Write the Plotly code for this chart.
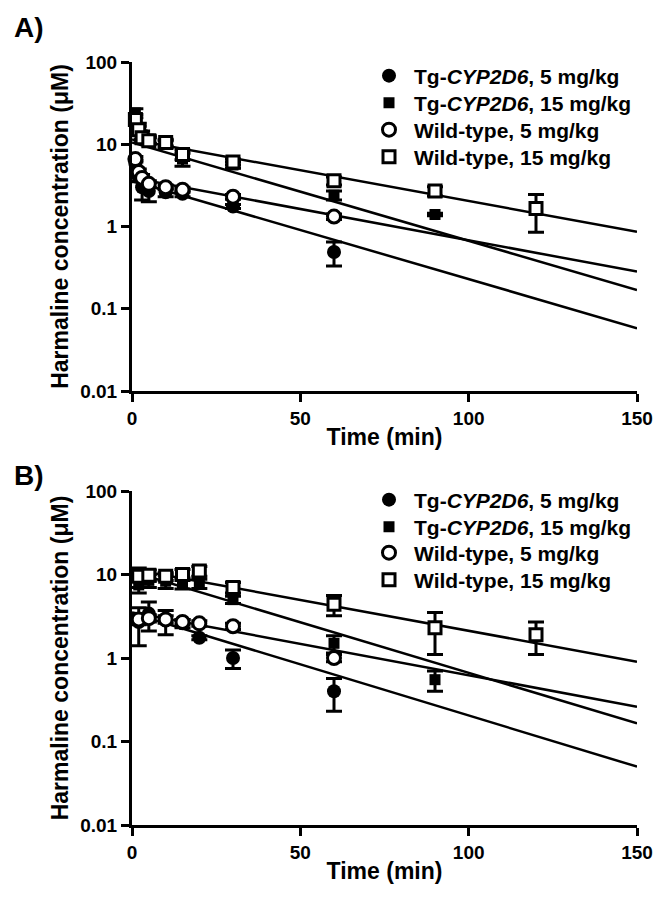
import plotly.graph_objects as go
from plotly.subplots import make_subplots

FONT = "Liberation Sans"

# ---- Panel A ----
a_tg5_t = [1, 2, 3, 5, 10, 15, 30, 60]
a_tg5_c = [5.8, 4.0, 3.0, 2.7, 2.6, 2.5, 1.75, 0.49]
a_tg5_e = [0.6, 0.5, 0.9, 0.7, 0.3, 0.2, 0.1, 0.16]

a_tg15_t = [1, 2, 3, 5, 10, 15, 30, 60, 90]
a_tg15_c = [24, 16, 13, 11.5, 10, 6.6, 5.6, 2.4, 1.4]
a_tg15_e = [3, 2, 1.5, 1.2, 1, 1.2, 0.5, 0.3, 0.05]

a_wt5_t = [1, 2, 3, 5, 10, 15, 30, 60]
a_wt5_c = [6.6, 4.6, 3.9, 3.3, 3.0, 2.8, 2.3, 1.32]
a_wt5_e = [0.5, 0.4, 0.4, 0.3, 0.2, 0.2, 0.15, 0.1]

a_wt15_t = [1, 2, 3, 5, 10, 15, 30, 60, 90, 120]
a_wt15_c = [20, 15, 12, 11, 10.5, 7.5, 6.1, 3.6, 2.7, 1.65]
a_wt15_e = [3, 1.5, 1.2, 1, 1, 1, 0.5, 0.4, 0.35, 0.8]

# fitted lines (value at t = 0 and t = 150)
fit_t = [0, 150]
a_fit_tg5 = [3.58, 0.058]
a_fit_tg15 = [10.5, 0.169]
a_fit_wt5 = [3.92, 0.283]
a_fit_wt15 = [11.4, 0.865]

# ---- Panel B ----
b_tg5_t = [2, 5, 10, 15, 20, 30, 60]
b_tg5_c = [2.7, 3.4, 2.8, 2.6, 1.75, 1.0, 0.40]
b_tg5_e = [1.3, 1.3, 0.9, 0.3, 0.1, 0.25, 0.17]

b_tg15_t = [2, 5, 10, 15, 20, 30, 60, 90]
b_tg15_c = [7.5, 8.5, 8.3, 7.9, 7.8, 5.0, 1.5, 0.55]
b_tg15_e = [1.5, 1.5, 1.5, 1.2, 1.0, 0.5, 0.35, 0.15]

b_wt5_t = [2, 5, 10, 15, 20, 30, 60]
b_wt5_c = [2.9, 3.0, 2.9, 2.7, 2.6, 2.4, 1.0]
b_wt5_e = [0.4, 0.3, 0.3, 0.2, 0.2, 0.2, 0.1]

b_wt15_t = [2, 5, 10, 15, 20, 30, 60, 90, 120]
b_wt15_c = [9.5, 9.8, 9.5, 10.0, 11.0, 7.0, 4.4, 2.3, 1.9]
b_wt15_e = [2.5, 1.5, 1.0, 1.5, 1.5, 1.0, 1.2, 1.2, 0.8]

b_fit_tg5 = [3.44, 0.050]
b_fit_tg15 = [10.8, 0.165]
b_fit_wt5 = [3.52, 0.261]
b_fit_wt15 = [11.6, 0.904]

names = ["Tg-<i>CYP2D6</i>, 5 mg/kg", "Tg-<i>CYP2D6</i>, 15 mg/kg",
         "Wild-type, 5 mg/kg", "Wild-type, 15 mg/kg"]
markers = [
    dict(symbol="circle", size=14, color="black"),
    dict(symbol="square", size=11, color="black"),
    dict(symbol="circle", size=13, color="white", line=dict(color="black", width=3)),
    dict(symbol="square", size=12, color="white", line=dict(color="black", width=3)),
]

W, H = 664, 897
M = dict(l=132, r=27, t=62, b=72)
plot_h = H - M["t"] - M["b"]


def py(px):
    # pixel row -> paper fraction
    return (H - M["b"] - px) / plot_h


def px_x(px):
    return (px - M["l"]) / (W - M["l"] - M["r"])


fig = make_subplots(rows=2, cols=1)

bold = dict(family=FONT, color="black", weight="bold")
legend_rows = {1: [76, 103, 130, 157], 2: [500, 527, 553, 580]}
legend_layout = {}


def add_panel(row, series, fits):
    for fit in fits:
        fig.add_trace(go.Scatter(x=fit_t, y=fit, mode="lines",
                                 line=dict(color="black", width=2.5),
                                 showlegend=False, hoverinfo="skip"),
                      row=row, col=1)
    for i, ((t, c, e), name, mk) in enumerate(zip(series, names, markers)):
        key = "legend" if (row, i) == (1, 0) else f"legend{(row - 1) * 4 + i + 1}"
        fig.add_trace(go.Scatter(
            x=t, y=c, mode="markers", name=name, marker=mk, legend=key,
            cliponaxis=False,
            error_y=dict(type="data", array=e, color="black", thickness=3, width=8),
        ), row=row, col=1)
        legend_layout[key] = dict(
            x=px_x(364), y=py(legend_rows[row][i]), xanchor="left", yanchor="middle",
            font=dict(size=21, **bold), bgcolor="rgba(0,0,0,0)", itemwidth=40,
        )


add_panel(1,
          [(a_tg5_t, a_tg5_c, a_tg5_e), (a_tg15_t, a_tg15_c, a_tg15_e),
           (a_wt5_t, a_wt5_c, a_wt5_e), (a_wt15_t, a_wt15_c, a_wt15_e)],
          [a_fit_tg5, a_fit_tg15, a_fit_wt5, a_fit_wt15])
add_panel(2,
          [(b_tg5_t, b_tg5_c, b_tg5_e), (b_tg15_t, b_tg15_c, b_tg15_e),
           (b_wt5_t, b_wt5_c, b_wt5_e), (b_wt15_t, b_wt15_c, b_wt15_e)],
          [b_fit_tg5, b_fit_tg15, b_fit_wt5, b_fit_wt15])

axis_style = dict(showline=True, linecolor="black", linewidth=3, ticks="outside",
                  ticklen=8, tickwidth=3, tickcolor="black", showgrid=False,
                  zeroline=False, tickfont=dict(size=19, **bold))

fig.update_xaxes(range=[0, 150], tickvals=[0, 50, 100, 150],
                 title=dict(text="Time (min)", font=dict(size=23, **bold), standoff=2),
                 **axis_style)
fig.update_yaxes(type="log", range=[-2, 2],
                 tickvals=[0.01, 0.1, 1, 10, 100],
                 ticktext=["0.01", "0.1", "1", "10", "100"],
                 title=dict(text="Harmaline concentration (\u03bcM)",
                            font=dict(size=23, **bold), standoff=6),
                 **axis_style)
fig.update_yaxes(domain=[py(391), 1.0], row=1, col=1)
fig.update_yaxes(domain=[0.0, py(491)], row=2, col=1)

fig.update_layout(
    width=W, height=H, margin=M,
    plot_bgcolor="white", paper_bgcolor="white",
    annotations=[
        dict(text="A)", x=px_x(12), y=py(27), xref="paper", yref="paper",
             xanchor="left", yanchor="middle", showarrow=False,
             font=dict(size=28, **bold)),
        dict(text="B)", x=px_x(12), y=py(475), xref="paper", yref="paper",
             xanchor="left", yanchor="middle", showarrow=False,
             font=dict(size=28, **bold)),
    ],
    **legend_layout,
)

# drop the default page margin so the figure sits at the window origin
fig.write_html("out.html",
               config={"displayModeBar": False},
               post_script="document.body.style.margin='0';"
                           "document.body.style.overflow='hidden';")
